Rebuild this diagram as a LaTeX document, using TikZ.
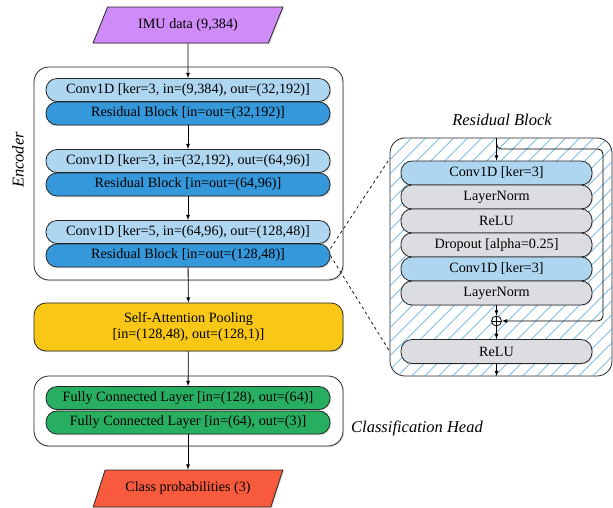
\documentclass[tikz,border=0pt]{standalone}
\usepackage{fontspec}
\setmainfont{Liberation Serif}
\usepackage{tikz}
\usetikzlibrary{arrows,shapes.geometric,shadows,patterns.meta}
\definecolor{ePurple}{HTML}{CF8CF8}
\definecolor{convBlue}{HTML}{AED6F1}
\definecolor{resBlue}{HTML}{3498DB}
\definecolor{poolYellow}{HTML}{F9C716}
\definecolor{fcGreen}{HTML}{27AE60}
\definecolor{outRed}{HTML}{F85A3E}
\definecolor{blkGray}{HTML}{DCDDE1}
\definecolor{hatchBlue}{HTML}{4AA3DF}
\tikzset{shd/.style={drop shadow={shadow xshift=1.2pt, shadow yshift=-1.2pt, opacity=.25}}}
\tikzset{blk/.style={draw=black!85, line width=.8pt, rounded corners=11pt,
  minimum width=284pt, minimum height=23pt, inner sep=0pt, shd}}
\tikzset{pill/.style={blk, minimum width=191pt, minimum height=24pt}}
\tikzset{grp/.style={draw=black!85, line width=.8pt, fill=white, rounded corners=15pt,
  minimum width=309pt, inner sep=0pt, shd}}
\tikzset{io/.style={trapezium, trapezium left angle=55, trapezium right angle=125,
  trapezium stretches=true, draw=black!85, line width=.8pt, minimum width=190pt,
  minimum height=36pt, inner sep=0pt, shd}}
\tikzset{a/.style={draw, line width=.8pt, -latex}}
\tikzset{sum/.style={circle, draw, line width=.8pt, fill=white, inner sep=0pt, minimum size=10pt,
  path picture={\draw[line width=.8pt] (path picture bounding box.north) -- (path picture bounding box.south)
  (path picture bounding box.west) -- (path picture bounding box.east);}}}

\begin{document}
\begin{tikzpicture}[x=1pt,y=-1pt]
        \tikzstyle{every node}=[font=\fontsize{14.2}{16.5}\selectfont]
        \tikzstyle{lab} = [font=\fontsize{16.5}{19}\selectfont\itshape]
        \useasboundingbox (0,0) rectangle (613,507);
        %% main pipeline
        \node (imu) at (188,25) [io, fill=ePurple] {IMU data (9,384)};
        \node (enc) at (188.5,173.5) [grp, minimum height=213pt] {};
        \node at (18,160) [lab, rotate=90] {Encoder};
        \node (c1) at (188,90) [blk, fill=convBlue] {Conv1D [ker=3, in=(9,384), out=(32,192)]};
        \node (r1) at (188,113.5) [blk, fill=resBlue] {Residual Block [in=out=(32,192)]};
        \node (c2) at (188,161) [blk, fill=convBlue] {Conv1D [ker=3, in=(32,192), out=(64,96)]};
        \node (r2) at (188,184.5) [blk, fill=resBlue] {Residual Block [in=out=(64,96)]};
        \node (c3) at (188,232) [blk, fill=convBlue] {Conv1D [ker=5, in=(64,96), out=(128,48)]};
        \node (r3) at (188,255.5) [blk, fill=resBlue] {Residual Block [in=out=(128,48)]};
        \node (pool) at (188.5,327) [grp, fill=poolYellow, rounded corners=12pt, minimum height=48pt,
            align=center] {Self-Attention Pooling\\{}[in=(128,48), out=(128,1)]};
        \node (head) at (188.5,411) [grp, minimum height=70pt] {};
        \node at (417,428) [lab] {Classification Head};
        \node (fc1) at (188,398) [blk, fill=fcGreen] {Fully Connected Layer [in=(128), out=(64)]};
        \node (fc2) at (188,422.5) [blk, fill=fcGreen] {Fully Connected Layer [in=(64), out=(3)]};
        \node (out) at (188,488.5) [io, fill=outRed, minimum height=37pt] {Class probabilities (3)};
        \draw [a] (imu) to (c1);
        \draw [a] (r1) to (c2);
        \draw [a] (r2) to (c3);
        \draw [a] (r3) to (pool);
        \draw [a] (pool) to (fc1);
        \draw [a] (fc2) to (out);
        %% residual block detail
        \node at (502,120) [lab] {Residual Block};
        \node (rb) at (501,257) [draw=black!85, line width=.8pt, rounded corners=15pt, fill=white,
            postaction={pattern={Lines[angle=45,distance=10.5pt,line width=.7pt]}, pattern color=hatchBlue},
            minimum width=222pt, minimum height=238pt, inner sep=0pt] {};
        \node (k1) at (496.5,173) [pill, fill=convBlue] {Conv1D [ker=3]};
        \node (n1) at (496.5,197) [pill, fill=blkGray] {LayerNorm};
        \node (u1) at (496.5,221) [pill, fill=blkGray] {ReLU};
        \node (dp) at (496.5,245) [pill, fill=blkGray] {Dropout [alpha=0.25]};
        \node (k2) at (496.5,269) [pill, fill=convBlue] {Conv1D [ker=3]};
        \node (n2) at (496.5,293) [pill, fill=blkGray] {LayerNorm};
        \node (add) at (496.5,321) [sum] {};
        \node (u2) at (496.5,351.5) [pill, fill=blkGray] {ReLU};
        \coordinate (rin) at (496.5,138);
        \coordinate (sk) at (603,149);
        \coordinate (rout) at (496.5,376);
        \draw [a] (rin) to (k1);
        \draw [a, rounded corners=5pt] (rin) |- (sk) |- (add);
        \draw [a] (n2) to (add);
        \draw [a] (add) to (u2);
        \draw [a] (u2) to (rout);
        %% zoom lines
        \coordinate (zt) at (390,158);
        \coordinate (zb) at (390,352);
        \draw [dashed, line width=.7pt] ([yshift=7pt]r3.east) -- (zt);
        \draw [dashed, line width=.7pt] (r3.east) -- (zb);
    \end{tikzpicture}
\end{document}
